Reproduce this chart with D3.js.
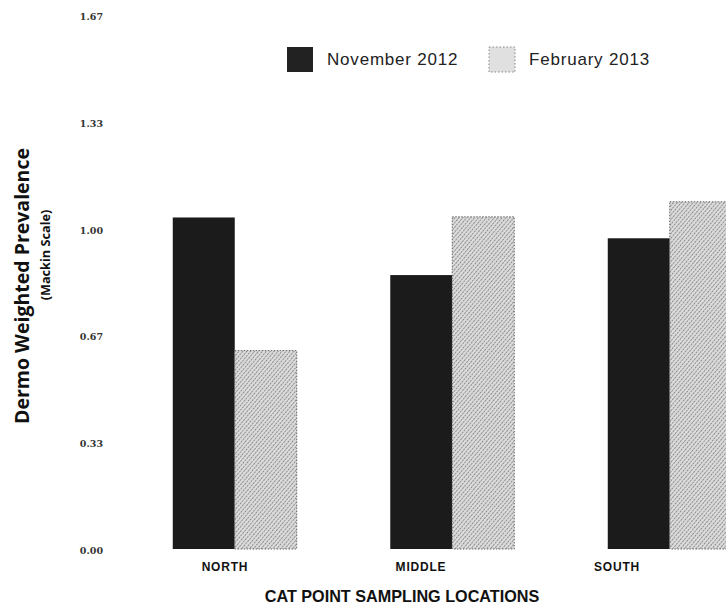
<!DOCTYPE html>
<html><head><meta charset="utf-8">
<script src="https://cdn.jsdelivr.net/npm/d3@7"></script>
<style>
html,body{margin:0;padding:0;background:#fff;}
svg{display:block;}
</style></head>
<body>
<svg id="chart" width="726" height="606"></svg>
<script>
const categories = ["NORTH", "MIDDLE", "SOUTH"];
const seriesNames = ["November 2012", "February 2013"];
const nov2012 = [1.036, 0.856, 0.971];
const feb2013 = [0.620, 1.038, 1.085];
const yTicks = [0, 1/3, 2/3, 1, 4/3, 5/3];

const svg = d3.select("#chart");
const defs = svg.append("defs");
const pat = defs.append("pattern").attr("id","hatch").attr("patternUnits","userSpaceOnUse")
  .attr("width",3).attr("height",3).attr("patternTransform","rotate(40)");
pat.append("rect").attr("width",3).attr("height",3).attr("fill","#dcdcdc");
pat.append("line").attr("x1",0.5).attr("y1",0).attr("x2",0.5).attr("y2",3)
  .attr("stroke","#7a7a7a").attr("stroke-width",0.8).attr("stroke-dasharray","1.2,0.8");

const y = d3.scaleLinear().domain([0, 5/3]).range([549, 549 - 320*5/3]);
const x0 = d3.scaleBand().domain(categories).range([126, 778.5]).paddingInner(0.43).paddingOuter(0.215);
const x1 = d3.scaleBand().domain(seriesNames).range([0, x0.bandwidth()]).padding(0);
const labelX = d3.scalePoint().domain(categories).range([225, 617]);

const colors = {"November 2012":"#1b1b1b","February 2013":"url(#hatch)"};
const rows = categories.map((c,i)=>({cat:c, vals:[
  {s:seriesNames[0], v:nov2012[i]}, {s:seriesNames[1], v:feb2013[i]}]}));

const g = svg.append("g");
const groups = g.selectAll("g.grp").data(rows).join("g").attr("class","grp")
  .attr("transform", d=>`translate(${x0(d.cat)},0)`);
groups.selectAll("rect").data(d=>d.vals).join("rect")
  .attr("x", d=>x1(d.s)).attr("width", x1.bandwidth())
  .attr("y", d=>y(d.v)).attr("height", d=>y(0)-y(d.v))
  .attr("fill", d=>colors[d.s])
  .attr("stroke", d=>d.s===seriesNames[1] ? "#666" : "none")
  .attr("stroke-width", 1).attr("stroke-dasharray","1.5,1.5");

// Y axis
const yAxis = d3.axisLeft(y).tickValues(yTicks).tickFormat(d3.format(".2f")).tickSize(0).tickPadding(0);
const ya = svg.append("g").attr("transform","translate(103,1)").call(yAxis);
ya.select(".domain").remove();
ya.selectAll("text").attr("font-family","'DejaVu Serif', serif").attr("font-weight","bold")
  .attr("font-size",9.5).attr("fill","#333");

// Category labels
svg.append("g").selectAll("text").data(categories).join("text")
  .attr("x", d=>labelX(d)).attr("y", 571).attr("text-anchor","middle")
  .attr("font-family","'Liberation Sans', Arial, sans-serif").attr("font-weight","bold")
  .attr("font-size",12).attr("letter-spacing",0.8).attr("fill","#111").text(d=>d);

// X title
svg.append("text").attr("x",402).attr("y",602).attr("text-anchor","middle")
  .attr("font-family","'Liberation Sans', Arial, sans-serif").attr("font-weight","bold")
  .attr("font-size",16.2).attr("fill","#111").text("CAT POINT SAMPLING LOCATIONS");

// Y title
svg.append("text").attr("transform","translate(29,286) rotate(-90)").attr("text-anchor","middle")
  .attr("font-family","'Open Sans', sans-serif").attr("font-weight","bold")
  .attr("font-size",19.5).attr("fill","#111").text("Dermo Weighted Prevalence");
svg.append("text").attr("transform","translate(50,255) rotate(-90)").attr("text-anchor","middle")
  .attr("font-family","'Open Sans', sans-serif").attr("font-weight","bold")
  .attr("font-size",12.7).attr("fill","#111").text("(Mackin Scale)");

// Legend
const legX = [287, 489];
const leg = svg.append("g").selectAll("g").data(seriesNames).join("g")
  .attr("transform",(d,i)=>`translate(${legX[i]},47)`);
leg.append("rect").attr("width",26).attr("height",25)
  .attr("fill", d=> d===seriesNames[0] ? "#222" : "#e0e0e0")
  .attr("stroke", d=> d===seriesNames[0] ? "none" : "#888").attr("stroke-dasharray","1.5,2");
leg.append("text").attr("x",40).attr("y",18)
  .attr("font-family","'Liberation Sans', Arial, sans-serif").attr("font-size",17)
  .attr("letter-spacing",0.8).attr("fill","#222").text(d=>d);
</script>
</body></html>
